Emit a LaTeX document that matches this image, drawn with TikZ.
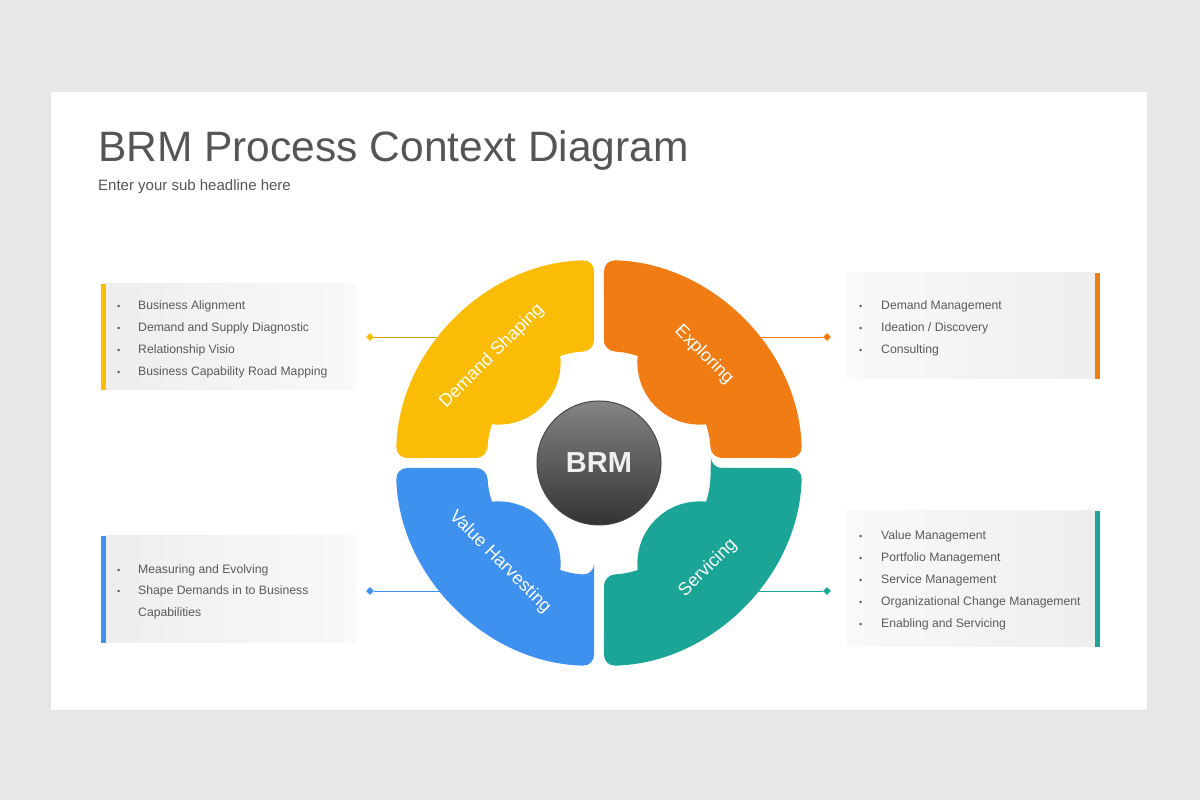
\documentclass[tikz,border=0pt]{standalone}
\usepackage{fontspec}
\setmainfont{Liberation Sans}
\usetikzlibrary{calc, shapes.geometric}

\definecolor{pagebg}{HTML}{E8E6E7}
\definecolor{titlegray}{HTML}{555555}
\definecolor{listgray}{HTML}{5A5A5A}
\definecolor{boxdark}{HTML}{EEEEEE}
\definecolor{boxlight}{HTML}{F9F9F9}
\definecolor{dsyellow}{HTML}{FBBC05}
\definecolor{exorange}{HTML}{F17C13}
\definecolor{vhblue}{HTML}{3E91EF}
\definecolor{svteal}{HTML}{1BA596}

\tikzset{
  listtext/.style={anchor=base west, inner sep=0pt, text=listgray, font=\fontsize{12.2}{14}\selectfont},
  listdot/.style={anchor=base west, inner sep=0pt, text=listgray, font=\fontsize{9}{10}\selectfont},
  tip/.style={diamond, inner sep=0pt, minimum size=8pt},
  ringlabel/.style={text=white, inner sep=0pt, font=\fontsize{18}{20}\selectfont},
}

\begin{document}
\begin{tikzpicture}[x=1pt, y=1pt]
  \useasboundingbox (0,0) rectangle (1200,800);
  \fill[pagebg] (0,0) rectangle (1200,800);
  \fill[black!10] (52,88) rectangle (1148,707);
  \fill[white] (51,90) rectangle (1147,708);

  \node[anchor=base west, inner sep=0pt, text=titlegray, font=\fontsize{42.5}{46}\selectfont] (title) at (98,638) {BRM Process Context Diagram};
  \node[anchor=base west, inner sep=0pt, text=titlegray, font=\fontsize{15}{17}\selectfont] (subtitle) at (98,609) {Enter your sub headline here};

  % text boxes
  \shade[left color=boxdark, right color=boxlight] (106,410) rectangle (355,516);
  \fill[dsyellow] (101,410) rectangle (106,516);
  \shade[left color=boxlight, right color=boxdark] (847,421) rectangle (1095,527);
  \fill[exorange] (1095,421) rectangle (1100,527);
  \shade[left color=boxdark, right color=boxlight] (106,157) rectangle (355,264);
  \fill[vhblue] (101,157) rectangle (106,264);
  \shade[left color=boxlight, right color=boxdark] (847,153) rectangle (1095,289);
  \fill[svteal] (1095,153) rectangle (1100,289);

  \foreach \y/\txt in {490.7/Business Alignment, 468.7/Demand and Supply Diagnostic, 446.7/Relationship Visio, 424.7/Business Capability Road Mapping}{
    \node[listdot] at (117,\y) {\textbullet};
    \node[listtext] at (138,\y) {\txt};
  }
  \foreach \y/\txt in {490.7/Demand Management, 468.7/{Ideation / Discovery}, 446.7/Consulting}{
    \node[listdot] at (859,\y) {\textbullet};
    \node[listtext] at (881,\y) {\txt};
  }
  \foreach \y/\txt in {226.7/Measuring and Evolving, 205/Shape Demands in to Business}{
    \node[listdot] at (117,\y) {\textbullet};
    \node[listtext] at (138,\y) {\txt};
  }
  \node[listtext] at (138,183.3) {Capabilities};
  \foreach \y/\txt in {260.7/Value Management, 238.3/Portfolio Management, 216.7/Service Management, 194.3/Organizational Change Management, 172.3/Enabling and Servicing}{
    \node[listdot] at (859,\y) {\textbullet};
    \node[listtext] at (881,\y) {\txt};
  }

  % connectors
  \node[tip, fill=dsyellow] (dstip) at (370,463) {};
  \node[tip, fill=exorange] (extip) at (827,463) {};
  \node[tip, fill=vhblue] (vhtip) at (370,209) {};
  \node[tip, fill=svteal] (svtip) at (827,209) {};
  \coordinate (dsend) at (470,463);
  \coordinate (exend) at (728,463);
  \coordinate (vhend) at (470,209);
  \coordinate (svend) at (728,209);
  \draw[dsyellow!85!black, line width=0.8pt] (dstip) -- (dsend);
  \draw[exorange, line width=0.8pt] (extip) -- (exend);
  \draw[vhblue, line width=0.8pt] (vhtip) -- (vhend);
  \draw[svteal, line width=0.8pt] (svtip) -- (svend);

  % ring
  \begin{scope}[shift={(599,337)}]
    \foreach \ang/\col in {0/exorange, 90/dsyellow, 180/vhblue, 270/svteal}{
      \begin{scope}[rotate=\ang]
        \fill[\col, rounded corners=11pt] (87.44:112) -- (88.59:203)
          arc[start angle=88.59, end angle=1.41, radius=203] -- (2.56:112)
          arc[start angle=2.56, end angle=87.44, radius=112] -- cycle;
        \begin{scope}
          \clip (0,0) circle[radius=130];
          \fill[\col] (45:142) circle[radius=62];
        \end{scope}
      \end{scope}
    }
  \end{scope}

  \node[circle, minimum size=124pt, inner sep=0pt, top color=black!48, bottom color=black!80, draw=black!72, line width=1pt, text=white!94!black, font=\bfseries\fontsize{29}{30}\selectfont] (brm) at (599,337) {BRM};

  \node[ringlabel, rotate=45] (dslabel) at (492,444) {Demand Shaping};
  \node[ringlabel, rotate=-45] (exlabel) at (704,445) {Exploring};
  \node[ringlabel, rotate=-45] (vhlabel) at (500,238) {Value Harvesting};
  \node[ringlabel, rotate=45] (svlabel) at (708,232) {Servicing};
\end{tikzpicture}
\end{document}
